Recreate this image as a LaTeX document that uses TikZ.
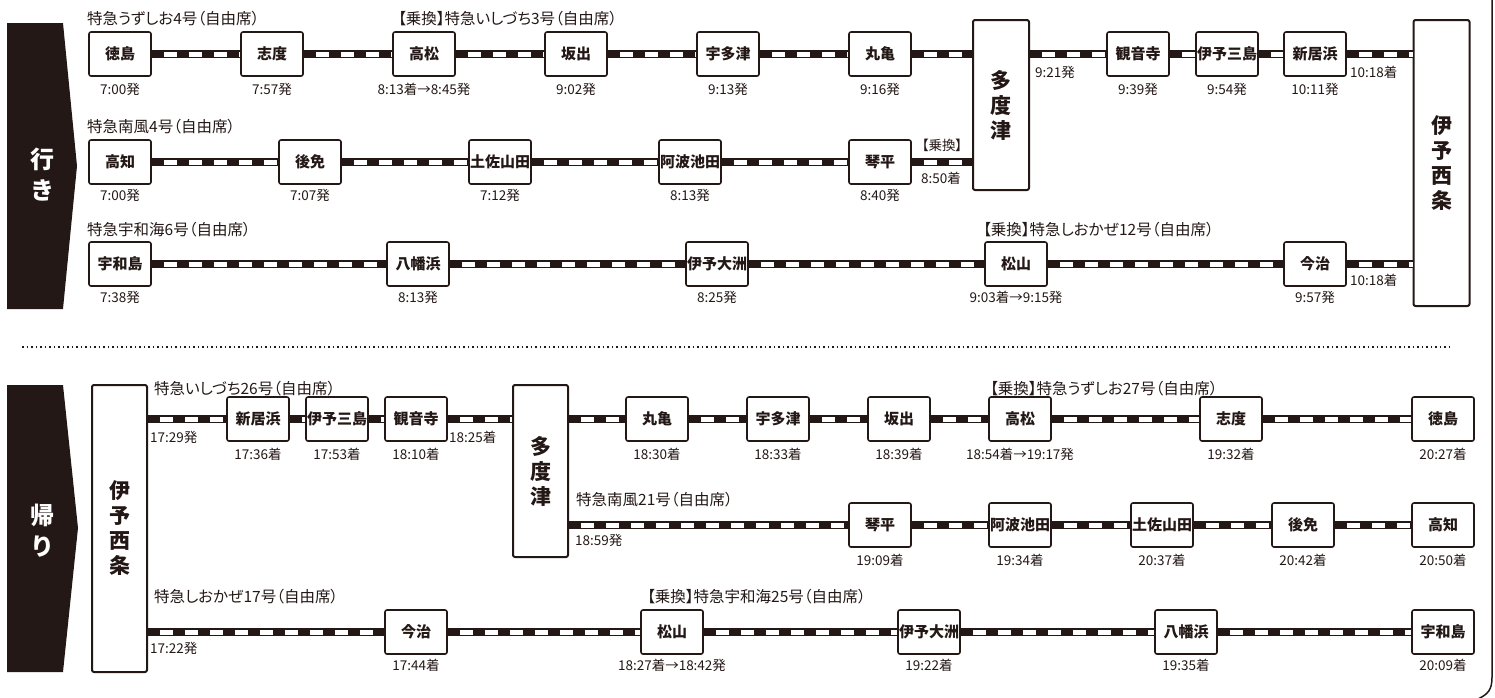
\documentclass[tikz,border=0pt]{standalone}
\usepackage{fontspec}
\setmainfont{Noto Sans CJK JP}
\newfontfamily\pfont[RawFeature=+palt]{Noto Sans CJK JP}
\usetikzlibrary{positioning}
\definecolor{ink}{HTML}{231815}
\begin{document}
\begin{tikzpicture}[x=1pt, y=-1pt, ink, line join=round,
  stn/.style = {draw, fill=white, rounded corners=2pt, line width=1.6pt, minimum width=62pt, minimum height=44pt, inner sep=0pt, font=\bfseries\fontsize{15}{15}\selectfont},
  big/.style = {draw, fill=white, rounded corners=2pt, line width=2pt, minimum width=56pt, inner sep=0pt, align=center, font=\bfseries\fontsize{21}{25}\selectfont},
  tm/.style = {inner sep=0pt, font=\pfont\fontsize{13.5}{13.5}\selectfont},
  trn/.style = {inner sep=0pt, anchor=west, font=\pfont\fontsize{15.5}{15.5}\selectfont},
  side/.style = {inner sep=0pt, align=center, text=white, font=\bfseries\fontsize{24}{31}\selectfont},
  rail/.style = {line width=5pt, white, preaction={draw, ink, line width=8pt}, postaction={draw, ink, line width=5pt, dash pattern=on 12pt off 13pt}}]
  \useasboundingbox (0,0) rectangle (1495,697);
  % frame and separator
  \draw[line width=1.5pt] (1492,-2) -- (1492,677) .. controls (1492,690) and (1488,694) .. (1478,699);
  \draw[line width=1.5pt, dash pattern=on 1.5pt off 3pt] (22,347) -- (1453,347);
  % side tabs
  \fill (7,23) -- (63,23) -- (77,166) -- (63,309) -- (7,309) -- cycle;
  \node[side] (go) at (42,175) {行\\き};
  \fill (7,385) -- (63,385) -- (78,528) -- (63,672) -- (7,672) -- cycle;
  \node[side] (back) at (42,531) {帰\\り};

  % ---- outbound
  \node[big, minimum height=170pt] (td1) at (1001,105) {多\\度\\津};
  \node[big, minimum height=286pt] (is1) at (1441.5,163) {伊\\予\\西\\条};

  \node[trn] (l1) at (87,19) {特急うずしお4号（自由席）};
  \node[trn] (l1b) at (398,19) {【乗換】特急いしづち3号（自由席）};
  \node[stn] (s11) at (120,54) {徳島};
  \node[stn] (s12) at (272,54) {志度};
  \node[stn] (s13) at (424,54) {高松};
  \node[stn] (s14) at (576,54) {坂出};
  \node[stn] (s15) at (728,54) {宇多津};
  \node[stn] (s16) at (880,54) {丸亀};
  \node[stn] (s17) at (1138,54) {観音寺};
  \node[stn] (s18) at (1227,54) {伊予三島};
  \node[stn] (s19) at (1315,54) {新居浜};
  \draw[rail] (s11) -- (s12) -- (s13) -- (s14) -- (s15) -- (s16) -- (s16 -| td1.west);
  \draw[rail] (td1.east |- s17) -- (s17) -- (s18) -- (s19) -- (s19 -| is1.west);
  \node[tm] (t11) at (120,89) {7:00発};
  \node[tm] (t12) at (272,89) {7:57発};
  \node[tm] (t13) at (424,89) {8:13着→8:45発};
  \node[tm] (t14) at (576,89) {9:02発};
  \node[tm] (t15) at (728,89) {9:13発};
  \node[tm] (t16) at (880,89) {9:16発};
  \node[tm, anchor=west] (t1d) at (1035,72) {9:21発};
  \node[tm] (t17) at (1138,89) {9:39発};
  \node[tm] (t18) at (1227,89) {9:54発};
  \node[tm] (t19) at (1315,89) {10:11発};
  \node[tm, anchor=west] (t1e) at (1350,72) {10:18着};

  \node[trn] (l2) at (87,127) {特急南風4号（自由席）};
  \node[stn] (s21) at (120,162) {高知};
  \node[stn] (s22) at (310,162) {後免};
  \node[stn] (s23) at (500,162) {土佐山田};
  \node[stn] (s24) at (690,162) {阿波池田};
  \node[stn] (s25) at (880,162) {琴平};
  \draw[rail] (s21) -- (s22) -- (s23) -- (s24) -- (s25) -- (s25 -| td1.west);
  \node[tm] (t21) at (120,195) {7:00発};
  \node[tm] (t22) at (310,195) {7:07発};
  \node[tm] (t23) at (500,195) {7:12発};
  \node[tm] (t24) at (690,195) {8:13発};
  \node[tm] (t25) at (880,195) {8:40発};
  \node[tm] (x2) at (942,145) {【乗換】};
  \node[tm] (t2e) at (941,178) {8:50着};

  \node[trn] (l3) at (87,230) {特急宇和海6号（自由席）};
  \node[trn] (l3b) at (983,230) {【乗換】特急しおかぜ12号（自由席）};
  \node[stn] (s31) at (120,264) {宇和島};
  \node[stn] (s32) at (418,264) {八幡浜};
  \node[stn] (s33) at (717,264) {伊予大洲};
  \node[stn] (s34) at (1016,264) {松山};
  \node[stn] (s35) at (1315,264) {今治};
  \draw[rail] (s31) -- (s32) -- (s33) -- (s34) -- (s35) -- (s35 -| is1.west);
  \node[tm] (t31) at (120,297) {7:38発};
  \node[tm] (t32) at (418,297) {8:13発};
  \node[tm] (t33) at (717,297) {8:25発};
  \node[tm] (t34) at (1016,297) {9:03着→9:15発};
  \node[tm] (t35) at (1315,297) {9:57発};
  \node[tm, anchor=west] (t3e) at (1350,280) {10:18着};

  % ---- return
  \node[big, minimum height=287pt, minimum width=55pt] (is2) at (119.5,528.5) {伊\\予\\西\\条};
  \node[big, minimum height=172pt, minimum width=55pt] (td2) at (540.5,471) {多\\度\\津};

  \node[trn] (m1) at (154,389) {特急いしづち26号（自由席）};
  \node[trn] (m1b) at (990,389) {【乗換】特急うずしお27号（自由席）};
  \node[stn] (b11) at (258,419) {新居浜};
  \node[stn] (b12) at (337,419) {伊予三島};
  \node[stn] (b13) at (416,419) {観音寺};
  \node[stn] (b14) at (657,419) {丸亀};
  \node[stn] (b15) at (778,419) {宇多津};
  \node[stn] (b16) at (899,419) {坂出};
  \node[stn] (b17) at (1020,419) {高松};
  \node[stn] (b18) at (1231,419) {志度};
  \node[stn] (b19) at (1443,419) {徳島};
  \draw[rail] (is2.east |- b11) -- (b11) -- (b12) -- (b13) -- (b13 -| td2.west);
  \draw[rail] (td2.east |- b14) -- (b14) -- (b15) -- (b16) -- (b17) -- (b18) -- (b19);
  \node[tm, anchor=west] (u1a) at (150,437) {17:29発};
  \node[tm] (u11) at (258,454) {17:36着};
  \node[tm] (u12) at (337,454) {17:53着};
  \node[tm] (u13) at (416,454) {18:10着};
  \node[tm, anchor=west] (u1d) at (449,437) {18:25着};
  \node[tm] (u14) at (657,454) {18:30着};
  \node[tm] (u15) at (778,454) {18:33着};
  \node[tm] (u16) at (899,454) {18:39着};
  \node[tm] (u17) at (1020,454) {18:54着→19:17発};
  \node[tm] (u18) at (1231,454) {19:32着};
  \node[tm] (u19) at (1443,454) {20:27着};

  \node[trn] (m2) at (576,500) {特急南風21号（自由席）};
  \node[stn] (b21) at (880,525) {琴平};
  \node[stn] (b22) at (1020,525) {阿波池田};
  \node[stn] (b23) at (1162,525) {土佐山田};
  \node[stn] (b24) at (1303,525) {後免};
  \node[stn] (b25) at (1443,525) {高知};
  \draw[rail] (td2.east |- b21) -- (b21) -- (b22) -- (b23) -- (b24) -- (b25);
  \node[tm, anchor=west] (u2a) at (575,540) {18:59発};
  \node[tm] (u21) at (880,560) {19:09着};
  \node[tm] (u22) at (1020,560) {19:34着};
  \node[tm] (u23) at (1162,560) {20:37着};
  \node[tm] (u24) at (1303,560) {20:42着};
  \node[tm] (u25) at (1443,560) {20:50着};

  \node[trn] (m3) at (154,597) {特急しおかぜ17号（自由席）};
  \node[trn] (m3b) at (647,597) {【乗換】特急宇和海25号（自由席）};
  \node[stn] (b31) at (416,632) {今治};
  \node[stn] (b32) at (672,632) {松山};
  \node[stn] (b33) at (929,632) {伊予大洲};
  \node[stn] (b34) at (1186,632) {八幡浜};
  \node[stn] (b35) at (1443,632) {宇和島};
  \draw[rail] (is2.east |- b31) -- (b31) -- (b32) -- (b33) -- (b34) -- (b35);
  \node[tm, anchor=west] (u3a) at (150,648) {17:22発};
  \node[tm] (u31) at (416,665) {17:44着};
  \node[tm] (u32) at (672,665) {18:27着→18:42発};
  \node[tm] (u33) at (929,665) {19:22着};
  \node[tm] (u34) at (1186,665) {19:35着};
  \node[tm] (u35) at (1443,665) {20:09着};
\end{tikzpicture}
\end{document}
